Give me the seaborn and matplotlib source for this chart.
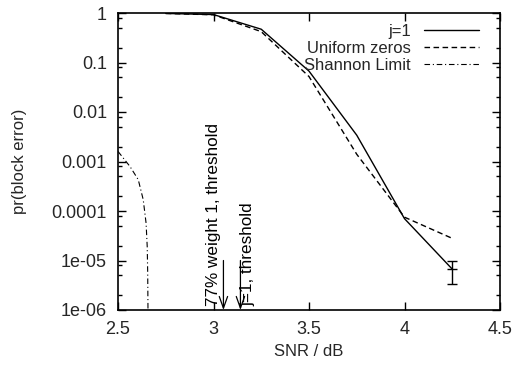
import numpy as np
import pandas as pd
import matplotlib
matplotlib.use("Agg")
import matplotlib.pyplot as plt
from matplotlib.ticker import LogLocator, FixedLocator, NullFormatter
import seaborn as sns

# ---- data ----
snr_j1 = [2.75, 3.0, 3.25, 3.5, 3.75, 4.0, 4.25]
pr_j1 = [0.98, 0.93, 0.47, 0.067, 0.0034, 7.0e-5, 6.7e-6]

snr_uniform = [2.75, 3.0, 3.25, 3.5, 3.75, 4.0, 4.25]
pr_uniform = [0.98, 0.92, 0.42, 0.052, 0.0014, 7.5e-5, 2.8e-5]

snr_shannon = [2.5, 2.563, 2.606, 2.632, 2.647, 2.653, 2.6555, 2.657]
pr_shannon = [1.6e-3, 7.9e-4, 4.3e-4, 1.7e-4, 5.7e-5, 1.9e-5, 5.6e-6, 1.0e-6]

err_snr = [4.25]
err_pr = [6.7e-6]
err_low = [3.3e-6]
err_high = [9.8e-6]

threshold_snr = [3.052, 3.141]
threshold_top = [1e-5, 1e-5]
threshold_bottom = [1e-6, 1e-6]
label_snr = [3.0, 3.18]
label_text = ["77% weight 1, threshold", "j=1, threshold"]

xticks = [2.5, 3, 3.5, 4, 4.5]
xticklabels = ["2.5", "3", "3.5", "4", "4.5"]
yticks = [1, 0.1, 0.01, 0.001, 0.0001, 1e-5, 1e-6]
yticklabels = ["1", "0.1", "0.01", "0.001", "0.0001", "1e-05", "1e-06"]

# ---- style ----
sns.set_theme(style="ticks")
plt.rcParams['font.family'] = ['Liberation Sans', 'DejaVu Sans']
plt.rcParams['font.size'] = 12

fig = plt.figure(figsize=(5.14, 3.65), dpi=100)
ax = fig.add_axes([118/514, 1-310/365, 382/514, 297/365])

df_j1 = pd.DataFrame({"snr": snr_j1, "pr": pr_j1})
df_u = pd.DataFrame({"snr": snr_uniform, "pr": pr_uniform})
df_s = pd.DataFrame({"snr": snr_shannon, "pr": pr_shannon})

sns.lineplot(data=df_j1, x="snr", y="pr", ax=ax, color="black", lw=1.0,
             estimator=None, label="j=1")
sns.lineplot(data=df_u, x="snr", y="pr", ax=ax, color="black", lw=1.0,
             estimator=None, label="Uniform zeros", linestyle=(0, (4, 2.5)))
sns.lineplot(data=df_s, x="snr", y="pr", ax=ax, color="black", lw=0.8,
             estimator=None, label="Shannon Limit", linestyle=(0, (5, 2.5, 1, 2.5)))

yerr = [np.array(err_pr) - np.array(err_low), np.array(err_high) - np.array(err_pr)]
ax.errorbar(err_snr, err_pr, yerr=yerr, fmt="none", ecolor="black",
            elinewidth=1.0, capsize=3.5, capthick=1.0)
ax.plot(err_snr, err_pr, marker="_", ms=7, mew=1.0, color="black", ls="none")

for xs, yt, yb in zip(threshold_snr, threshold_top, threshold_bottom):
    ax.annotate("", xy=(xs, yb), xytext=(xs, yt),
                arrowprops=dict(arrowstyle="->,head_length=0.7,head_width=0.25",
                                lw=0.9, color="black", shrinkA=0, shrinkB=0))
for xs, txt in zip(label_snr, label_text):
    ax.text(xs, 1.18e-6, txt, rotation=90, ha="center", va="bottom",
            fontsize=12.3, color="black")

ax.set_yscale("log")
ax.set_xlim(2.5, 4.5)
ax.set_ylim(1e-6, 1)
ax.set_xticks(xticks)
ax.set_xticklabels(xticklabels)
ax.yaxis.set_major_locator(FixedLocator(yticks))
ax.set_yticklabels(yticklabels)
ax.yaxis.set_minor_locator(LogLocator(base=10, subs=[2, 5, 8], numticks=20))
ax.yaxis.set_minor_formatter(NullFormatter())

ax.tick_params(axis="both", which="major", direction="in", length=6, width=1.0,
               top=True, right=True, labelsize=13, color="black")
ax.tick_params(axis="y", which="major", pad=8)
ax.tick_params(axis="x", which="major", pad=8)
ax.tick_params(axis="y", which="minor", direction="in", length=3, width=1.0,
               left=True, right=True, color="black")
ax.tick_params(axis="x", which="minor", bottom=False, top=False)

for sp in ax.spines.values():
    sp.set_visible(True)
    sp.set_linewidth(1.2)
    sp.set_color("black")

ax.set_xlabel("SNR / dB", fontsize=12)
ax.set_ylabel("pr(block error)", fontsize=12)
ax.yaxis.set_label_coords(-(118-20)/382, 0.5)
ax.xaxis.set_label_coords(0.5, -(352-310)/297)
ax.xaxis.label.set_va("center")
ax.yaxis.label.set_va("center")

leg = ax.legend(loc="upper right", bbox_to_anchor=((479-118)/382, 1-(24-13)/297),
                frameon=False, markerfirst=False, handlelength=3.3,
                handletextpad=0.8, labelspacing=0.12, borderpad=0,
                borderaxespad=0, fontsize=12)

fig.savefig("out.png", dpi=100, facecolor="white")
